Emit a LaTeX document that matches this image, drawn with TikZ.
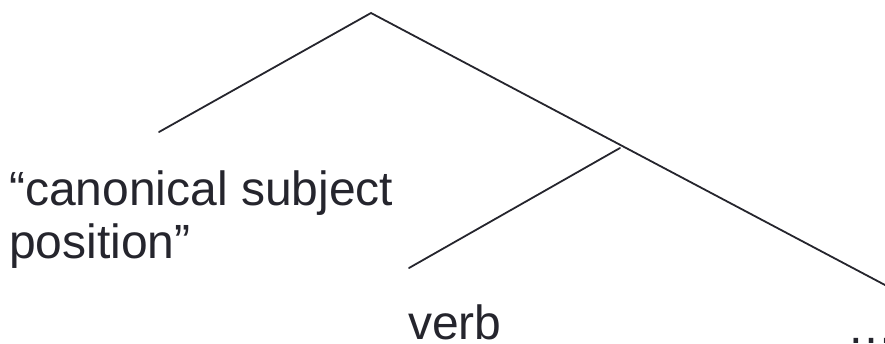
\documentclass[tikz,border=0pt]{standalone}
\usepackage{fontspec}
\setmainfont{Liberation Sans}
\definecolor{ink}{HTML}{25252D}

\begin{document}
\begin{tikzpicture}[x=1pt,y=-1pt]
		\tikzstyle{branch} = [line width=1.8pt, draw=ink, line cap=round]
		\tikzstyle{Label} = [inner sep=0pt, text=ink, anchor=base west, font=\fontsize{48}{53}\selectfont]
		
		\useasboundingbox (0,0) rectangle (885,343);
		
		% tree skeleton
		\coordinate (root) at (371,13);
		\coordinate (subj) at (159,132);
		\coordinate (vp) at (620,148);
		\coordinate (v) at (409,268);
		\coordinate (rest) at (885,285);
		\draw [branch] (subj) -- (root) -- (rest);
		\draw [branch] (vp) -- (v);
		
		% leaves (base of a two-line node sits on its last line)
		\node (subjtext) [Label, align=left] at (9,258) {“canonical subject\\position”};
		\node (verb) [Label] at (408,339) {verb};
		\node (dots) [Label] at (847,343) {…};
\end{tikzpicture}
\end{document}
